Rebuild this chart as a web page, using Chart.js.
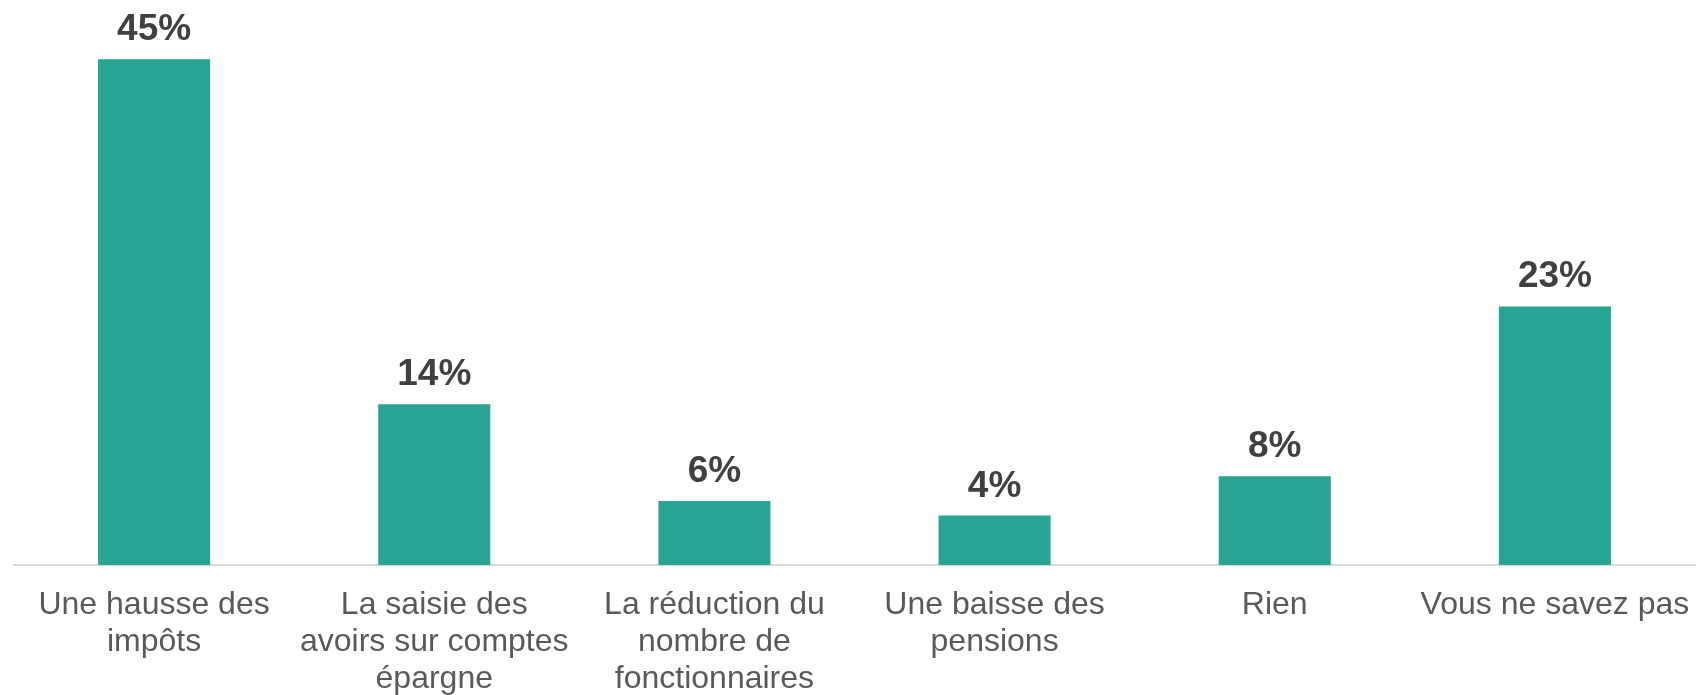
<!DOCTYPE html>
<html>
<head>
<meta charset="utf-8">
<script src="https://cdn.jsdelivr.net/npm/chart.js@4"></script>
<style>
  html, body { margin: 0; padding: 0; background: #ffffff; overflow: hidden; }
  #wrap { width: 1696px; height: 695px; overflow: hidden; }
  canvas { display: block; }
</style>
</head>
<body>
<div id="wrap"><canvas id="c" width="1696" height="695"></canvas></div>
<script>
const categories = [
  ["Une hausse des", "impôts"],
  ["La saisie des", "avoirs sur comptes", "épargne"],
  ["La réduction du", "nombre de", "fonctionnaires"],
  ["Une baisse des", "pensions"],
  ["Rien"],
  ["Vous ne savez pas"]
];
const values = [45, 14.3, 5.7, 4.4, 7.9, 23];
const valueLabels = ["45%", "14%", "6%", "4%", "8%", "23%"];

const barColor = "#27A592";

const dataLabelPlugin = {
  id: "dataLabels",
  afterDatasetsDraw(chart) {
    const ctx = chart.ctx;
    const meta = chart.getDatasetMeta(0);
    ctx.save();
    ctx.font = "bold 37px 'Liberation Sans', Arial, sans-serif";
    ctx.fillStyle = "#404040";
    ctx.textAlign = "center";
    ctx.textBaseline = "alphabetic";
    meta.data.forEach((bar, i) => {
      ctx.fillText(valueLabels[i], bar.x, bar.y - 19);
    });
    ctx.restore();
  }
};

new Chart(document.getElementById("c"), {
  type: "bar",
  data: {
    labels: categories,
    datasets: [{
      data: values,
      backgroundColor: barColor,
      borderWidth: 0,
      barPercentage: 0.4,
      categoryPercentage: 1.0
    }]
  },
  options: {
    responsive: false,
    animation: false,
    layout: { padding: { left: 14, right: 1, top: 3, bottom: 0 } },
    plugins: { legend: { display: false }, tooltip: { enabled: false } },
    scales: {
      y: {
        display: false,
        min: 0,
        max: 50
      },
      x: {
        grid: { display: false, drawTicks: true, tickLength: 22 },
        border: { display: true, color: "#D9D9D9", width: 2 },
        ticks: {
          color: "#595959",
          font: { family: "'Liberation Sans', Arial, sans-serif", size: 32, lineHeight: 1.15 },
          maxRotation: 0,
          autoSkip: false,
          padding: 0
        },
        afterFit(scale) { scale.height = 130; }
      }
    }
  },
  plugins: [dataLabelPlugin]
});
</script>
</body>
</html>
